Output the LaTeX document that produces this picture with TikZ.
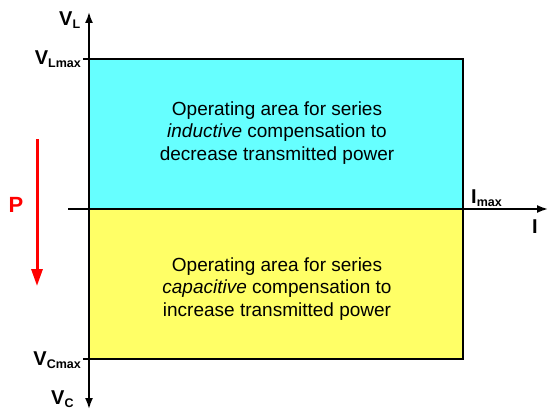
\documentclass[tikz,border=0pt]{standalone}
\usepackage{fontspec}
\setmainfont{Liberation Sans}
\usetikzlibrary{arrows.meta}
\definecolor{indcol}{RGB}{102,255,255}
\definecolor{capcol}{RGB}{255,255,102}
\newcommand\axlab[2]{#1{\fontsize{12.5}{12.5}\selectfont\raisebox{-3pt}{#2}}}
\begin{document}
\begin{tikzpicture}[x=1pt,y=-1pt,
  axis/.style={line width=1.8pt},
  area/.style={draw=black,line width=1.1pt,minimum width=374pt,minimum height=150pt,inner sep=0pt,outer sep=0pt,anchor=north west},
  areatext/.style={align=center,font=\fontsize{19}{22.5}\selectfont,inner sep=0pt},
  lbl/.style={font=\bfseries\fontsize{20}{20}\selectfont,inner sep=0pt},
  tick/.style={line width=1.1pt},
]
\useasboundingbox (0,0) rectangle (548,409);
% areas
\node[area,fill=indcol] (ind) at (89,59) {};
\node[area,fill=capcol] (cap) at (89,209) {};
\node[areatext] (indtext) at (277,133) {Operating area for series\\\textit{inductive} compensation to\\decrease transmitted power};
\node[areatext] (captext) at (277,289) {Operating area for series\\\textit{capacitive} compensation to\\increase transmitted power};
% axes
\coordinate (vtop) at (89,12);
\coordinate (vbot) at (89,409);
\coordinate (hl) at (68,209);
\coordinate (hr) at (548,209);
\draw[axis,{Latex[length=11pt,width=8pt]}-{Latex[length=11pt,width=8pt]}] (vbot) -- (vtop);
\draw[axis,-{Latex[length=11pt,width=8pt]}] (hl) -- (hr);
% ticks
\coordinate (t1a) at (83,59);
\coordinate (t2a) at (83,359);
\draw[tick] (t1a) -- (ind.north west);
\draw[tick] (t2a) -- (cap.south west);
% labels
\node[lbl,anchor=base west] (vl) at (59,26) {\axlab{V}{L}};
\node[lbl,anchor=base east] (vlmax) at (81,65) {\axlab{V}{Lmax}};
\node[lbl,anchor=base east] (vcmax) at (81,365) {\axlab{V}{Cmax}};
\node[lbl,anchor=base west] (vc) at (51,404) {\axlab{V}{C}};
\node[lbl,anchor=base west] (imax) at (471,203) {\axlab{I}{max}};
\node[lbl,anchor=base west] (ilab) at (532,233) {I};
% power arrow
\coordinate (ptop) at (37,139);
\coordinate (pbot) at (37,286);
\draw[red,line width=3pt,-{Triangle[length=17pt,width=11pt]}] (ptop) -- (pbot);
\node[font=\bfseries\fontsize{22}{22}\selectfont,text=red,inner sep=0pt] (p) at (16,205) {P};
\end{tikzpicture}
\end{document}
